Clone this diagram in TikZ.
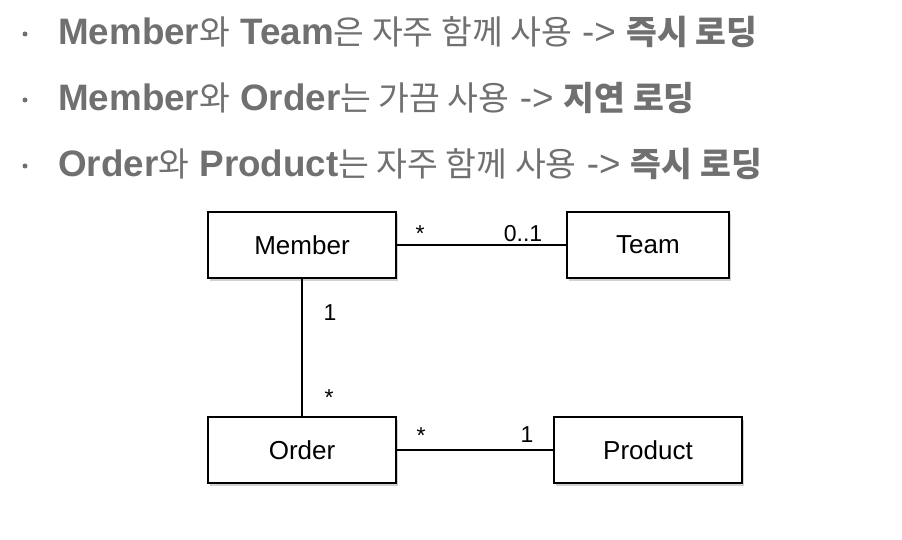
\documentclass[tikz,border=0pt]{standalone}
\usepackage{fontspec}
\setmainfont{Liberation Sans}
\newfontfamily\kr{Noto Sans CJK KR}
\newcommand\krt[1]{{\kr\fontsize{33.5}{40}\selectfont #1}}
\newcommand\krb[1]{{\kr\bfseries\fontsize{33.5}{40}\selectfont #1}}
\usetikzlibrary{shadows}
\definecolor{txt}{RGB}{112,112,112}
\begin{document}
\begin{tikzpicture}[x=1pt,y=-1pt,
  box/.style={draw=black, line width=1.5pt, fill=white, minimum width=#1,
    minimum height=66pt, inner sep=0pt, font=\fontsize{26}{30}\selectfont,
    drop shadow={opacity=0.35, shadow xshift=1.5pt, shadow yshift=-2.5pt}},
  lbl/.style={font=\fontsize{23}{26}\selectfont, inner sep=0pt, anchor=base},
  bline/.style={font=\fontsize{36.8}{40}\selectfont, text=txt, anchor=base west, inner sep=0pt},
  dot/.style={circle, fill=txt, inner sep=0pt, minimum size=5pt},
  conn/.style={draw=black, line width=1.3pt}]
\useasboundingbox (0,0) rectangle (902,540);
\fill[white] (0,0) rectangle (902,540);

% bullet lines
\node[dot] (d1) at (25,34) {};
\node[dot] (d2) at (25,100) {};
\node[dot] (d3) at (25,166) {};
\node[bline] (t1) at (58,45) {\textbf{Member}\krt{와} \textbf{Team}\krt{은 자주 함께 사용} -> \krb{즉시 로딩}};
\node[bline] (t2) at (58,111) {\textbf{Member}\krt{와} \textbf{Order}\krt{는 가끔 사용} -> \krb{지연 로딩}};
\node[bline] (t3) at (58,177) {\textbf{Order}\krt{와} \textbf{Product}\krt{는 자주 함께 사용} -> \krb{즉시 로딩}};

% boxes
\node[box=188pt] (member) at (302,245) {Member};
\node[box=162pt] (team) at (648,245) {Team};
\node[box=188pt] (order) at (302,450) {Order};
\node[box=188pt] (product) at (648,450) {Product};

% connectors
\draw[conn] (member) -- (team);
\draw[conn] (member) -- (order);
\draw[conn] (order) -- (product);

% multiplicities
\node[lbl] (mt1) at (420,241) {*};
\node[lbl] (mt2) at (523,241) {0..1};
\node[lbl] (mo1) at (330,320) {1};
\node[lbl] (mo2) at (329,405) {*};
\node[lbl] (op1) at (421,443) {*};
\node[lbl] (op2) at (527,442) {1};
\end{tikzpicture}
\end{document}
